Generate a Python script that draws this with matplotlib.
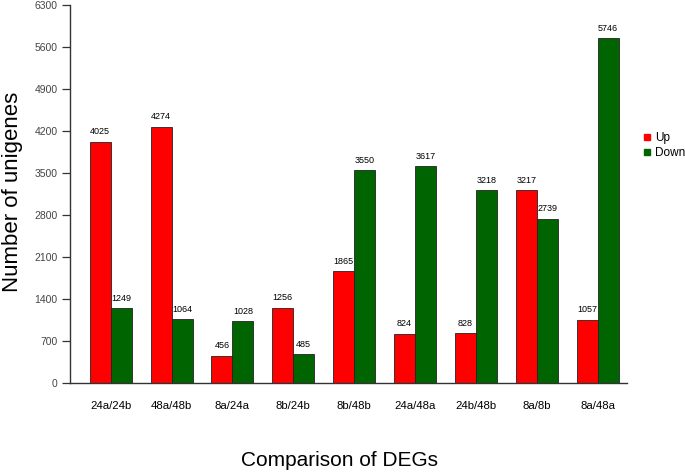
import matplotlib
matplotlib.use("Agg")
import matplotlib.pyplot as plt
import numpy as np
from matplotlib.lines import Line2D

plt.rcParams['font.family'] = ['Liberation Sans', 'DejaVu Sans']

categories = ["24a/24b", "48a/48b", "8a/24a", "8b/24b", "8b/48b", "24a/48a", "24b/48b", "8a/8b", "8a/48a"]
up = [4025, 4274, 456, 1256, 1865, 824, 828, 3217, 1057]
down = [1249, 1064, 1028, 485, 3550, 3617, 3218, 2739, 5746]
yticks = list(range(0, 6301, 700))

fig = plt.figure(figsize=(6.85, 4.73), dpi=100)
ax = fig.add_axes([0.102, 0.190, 0.813, 0.799])

x = np.arange(len(categories))
w = 0.345
red = "#ff0000"
green = "#006400"
b1 = ax.bar(x - w/2, up, w, color=red, edgecolor="#222222", linewidth=0.6)
b2 = ax.bar(x + w/2, down, w, color=green, edgecolor="#222222", linewidth=0.6)
for rect, v in zip(list(b1) + list(b2), up + down):
    ax.text(rect.get_x() + rect.get_width()/2, v + 90, str(v), ha="center", va="bottom", fontsize=6.5)

ax.set_xlim(-0.67, 8.48)
ax.set_ylim(0, 6300)
ax.set_yticks(yticks)
ax.set_yticklabels([str(t) for t in yticks], fontsize=7.5, color="#444444")
ax.set_xticks(x)
ax.set_xticklabels(categories, fontsize=8.2)
ax.tick_params(axis="x", length=0, pad=13)
ax.tick_params(axis="y", length=5.8, width=0.9, pad=3, color="#333333")
for s in ["top", "right"]:
    ax.spines[s].set_visible(False)
ax.spines["left"].set_linewidth(1.0)
ax.spines["bottom"].set_linewidth(1.0)
ax.spines["left"].set_color("#333333")
ax.spines["bottom"].set_color("#333333")

fig.text(0.018, 0.594, "Number of unigenes", ha="center", va="center", rotation=90, fontsize=16)
fig.text(0.496, 0.027, "Comparison of DEGs", ha="center", va="center", fontsize=15)

handles = [Line2D([], [], marker="s", linestyle="none", color=red, markersize=4),
           Line2D([], [], marker="s", linestyle="none", color=green, markersize=4)]
fig.legend(handles, ["Up", "Down"], loc="center left", bbox_to_anchor=(0.922, 0.692),
           frameon=False, fontsize=8.5, handletextpad=0.3, labelspacing=0.25, handlelength=0.8)

fig.savefig("out.png", dpi=100)
